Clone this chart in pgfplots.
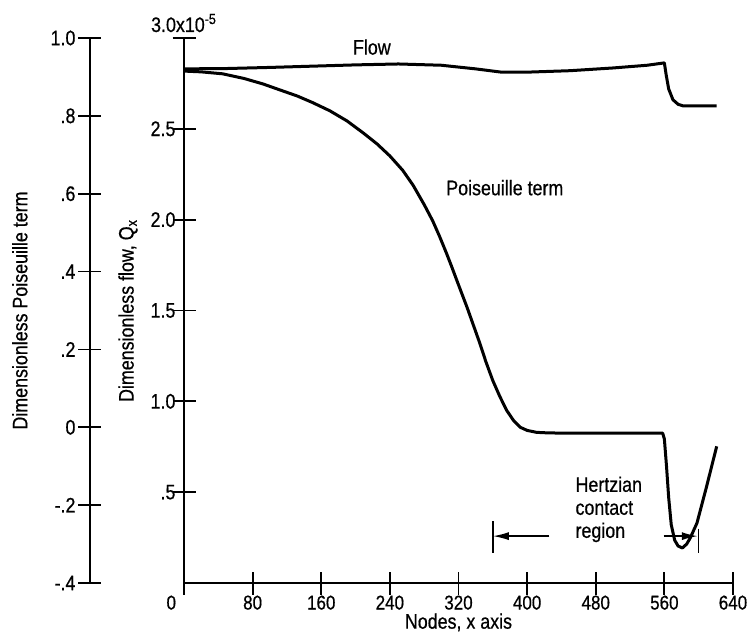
\documentclass[border=0pt]{standalone}
\usepackage{fontspec}
\setmainfont{Liberation Sans}[FakeStretch=0.85, FakeBold=0.6]
\usepackage{pgfplots}
\pgfplotsset{compat=1.18}
\usetikzlibrary{arrows.meta}
\begin{document}
\begin{tikzpicture}[font=\fontsize{10.5}{11.5}\selectfont]
\pgfplotsset{
  common/.style={
    scale only axis, width=274.5pt, height=272.5pt,
    xmin=0, xmax=640,
    tick align=inside,
    major tick length=11.5pt,
    every tick/.style={black, line width=0.9pt},
    /pgf/number format/assume math mode=true,
    clip=false,
    tick label style={font=\fontsize{10.5}{12}\selectfont},
  }
}
\begin{axis}[common,
  axis x line=bottom, axis y line=left,
  x axis line style={line width=1pt, -},
  y axis line style={line width=1pt, -},
  ymin=0, ymax=3,
  xtick={0,80,...,640},
  xticklabels={\makebox[0pt][r]{0\hspace{4pt}},80,160,240,320,400,480,560,640},
  xticklabel style={yshift=3pt, font=\fontsize{10}{12}\selectfont},
  ytick={0.5,1,1.5,2,2.5,3},
  yticklabels={.5,1.0,1.5,2.0,2.5,},
  yticklabel style={xshift=5pt},
  xlabel={Nodes, x axis},
  xlabel style={yshift=5pt},
  ylabel={Dimensionless flow, Q\textsubscript{x}},
  every axis y label/.style={at={(axis description cs:-0.102,0.5)}, rotate=90, anchor=center},
]
\addplot[black, line width=1.5pt, line join=round] coordinates {
(0,2.830) (50,2.832) (100,2.838) (150,2.845) (200,2.852) (250,2.857) (300,2.850)
(340,2.830) (370,2.812) (400,2.812) (450,2.820) (500,2.835) (540,2.850) (560,2.863)
(562,2.80) (565,2.72) (570,2.66) (576,2.635) (582,2.626) (621,2.626)
};
\node at (axis cs:219,2.95) {Flow};
\node at (axis cs:374,2.176) {Poiseuille term};
\node[anchor=base, yshift=3pt] at (axis cs:0,3) {3.0x10\textsuperscript{-5}};
\node[anchor=north west, align=left, inner sep=0pt] at (axis cs:456,0.588) {Hertzian\\contact\\region};
\draw[line width=0.8pt, -{Latex[length=8pt,width=4pt]}] (axis cs:426,0.258) -- (axis cs:360,0.258);
\draw[line width=0.8pt] (axis cs:360,0.34) -- (axis cs:360,0.165);
\draw[line width=0.8pt, -{Latex[length=8pt,width=4pt]}] (axis cs:559,0.258) -- (axis cs:599,0.258);
\draw[line width=0.8pt] (axis cs:600,0.30) -- (axis cs:600,0.165);
\end{axis}
\begin{axis}[common,
  hide x axis, axis y line=left,
  ymin=-0.4, ymax=1.0,
  ytick={-0.4,-0.2,0,0.2,0.4,0.6,0.8,1.0},
  yticklabels={-.4,-.2,0,.2,.4,.6,.8,1.0},
  y axis line style={line width=1pt, -, xshift=-47pt},
  ytick style={xshift=-47pt},
  yticklabel style={xshift=-45pt},
  ylabel={Dimensionless Poiseuille term},
  every axis y label/.style={at={(axis description cs:-0.299,0.5)}, rotate=90, anchor=center},
]
\addplot[black, line width=1.5pt, line join=round] coordinates {
(0,0.915) (20,0.913) (45,0.908) (70,0.896) (92,0.882) (110,0.868) (132,0.851) (150,0.834)
(170,0.813) (190,0.787) (209,0.756) (225,0.728) (240,0.697) (255,0.660) (267,0.622)
(280,0.572) (290,0.530) (298,0.490) (306,0.447) (312,0.413) (320,0.366) (330,0.308)
(345,0.215) (352,0.168) (360,0.120) (368,0.080) (376,0.044) (384,0.018) (392,0.000)
(400,-0.008) (411,-0.013) (420,-0.014) (438,-0.015) (558,-0.015)
(560,-0.03) (562.5,-0.10) (565,-0.18) (568,-0.25) (572,-0.29) (576,-0.305) (581,-0.31)
(586,-0.30) (590,-0.285) (598,-0.246) (609,-0.154) (621,-0.049)
};
\end{axis}
\pgfresetboundingbox
\path[use as bounding box] (-92pt,-29.5pt) rectangle (282pt,291.5pt);
\end{tikzpicture}
\end{document}
